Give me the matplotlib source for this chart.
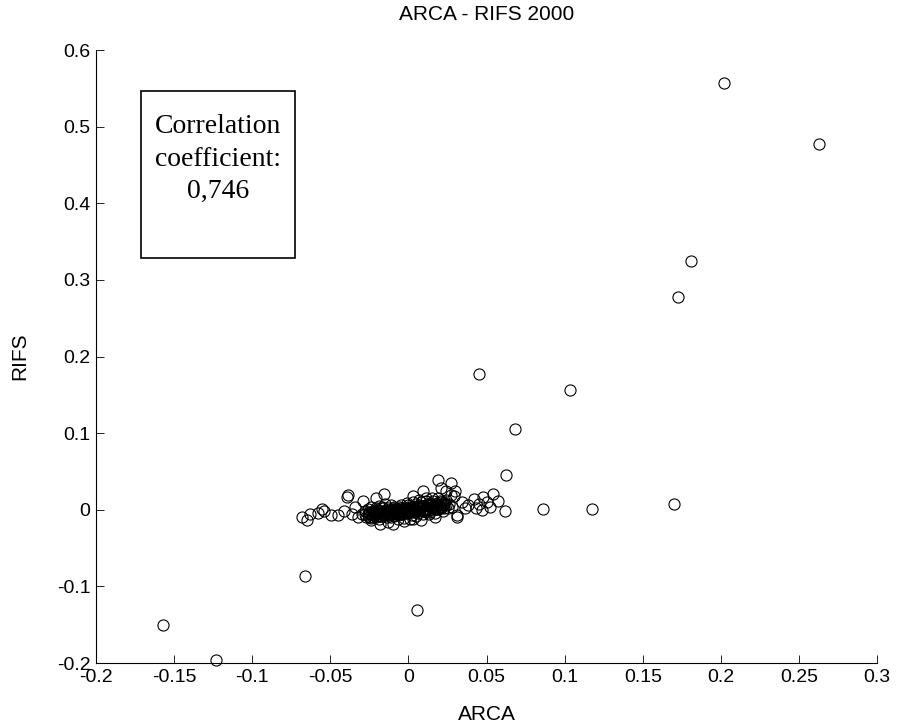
import matplotlib
matplotlib.use("Agg")
import matplotlib.pyplot as plt
from matplotlib.patches import Rectangle

# outlying points
out_x = [0.202, 0.263, 0.1805, 0.1724, 0.0449, 0.1034, 0.0679, 0.0621, 0.062, 0.0862,
         0.1173, 0.170, -0.0664, 0.0057, -0.157, -0.123]
out_y = [0.557, 0.477, 0.325, 0.278, 0.177, 0.156, 0.106, 0.045, -0.002, 0.001,
         0.001, 0.008, -0.086, -0.1305, -0.151, -0.196]

# points around the central cluster
halo_x = [-0.068, -0.065, -0.063, -0.0556, -0.054, -0.0496, -0.045, -0.041, -0.039, -0.0396,
          -0.034, -0.029, -0.058, -0.036, -0.032,
          -0.0155, 0.019, 0.0275, 0.0094, 0.024, 0.021, 0.029, -0.021, 0.003,
          -0.018, -0.0098, 0.0026, 0.031, -0.024, 0.017, 0.008, -0.013,
          0.031, 0.0296, 0.038, 0.042, 0.045, 0.047, 0.048, 0.052, 0.054, 0.057,
          0.043, 0.050, 0.034, 0.036]
halo_y = [-0.009, -0.013, -0.006, 0.001, -0.002, -0.007, -0.007, -0.001, 0.019, 0.0166,
          0.0035, 0.012, -0.004, -0.006, -0.010,
          0.021, 0.039, 0.035, 0.025, 0.024, 0.028, 0.018, 0.015, 0.018,
          -0.018, -0.018, -0.012, -0.009, -0.013, -0.010, -0.013, -0.016,
          -0.007, 0.024, 0.006, 0.014, 0.007, 0.0, 0.017, 0.004, 0.0205, 0.012,
          0.003, 0.010, 0.010, 0.003]

# dense core
core_x = [-0.030, -0.028, -0.027, -0.026, -0.025, -0.024, -0.023, -0.022, -0.021, -0.020,
          -0.019, -0.018, -0.017, -0.016, -0.015, -0.014, -0.013, -0.012, -0.011, -0.010,
          -0.009, -0.008, -0.007, -0.006, -0.005, -0.004, -0.003, -0.002, -0.001, 0.000,
          0.001, 0.002, 0.003, 0.004, 0.005, 0.006, 0.007, 0.008, 0.009, 0.010,
          0.011, 0.012, 0.013, 0.014, 0.015, 0.016, 0.017, 0.018, 0.019, 0.020,
          0.021, 0.022, 0.023, 0.024, 0.025, 0.026, 0.027, 0.028,
          -0.028, -0.024, -0.020, -0.016, -0.012, -0.008, -0.004, 0.000, 0.000, 0.002,
          0.004, 0.006, 0.008, 0.010, 0.012, 0.014, 0.016, -0.006, -0.002, 0.001,
          0.003, -0.010, -0.014, -0.018, -0.022, -0.026, 0.018, 0.020, 0.022, -0.001,
          0.003, 0.007, -0.005, -0.009, 0.009, 0.005, 0.001, -0.003, -0.007, -0.011,
          0.013, 0.017, -0.015, -0.019, 0.011, 0.015]
core_y = [-0.006, -0.002, -0.009, 0.001, -0.004, -0.011, -0.001, -0.007, 0.003, -0.004,
          -0.012, -0.002, 0.004, -0.007, -0.001, -0.010, 0.002, -0.005, 0.006, -0.002,
          -0.008, 0.001, -0.004, 0.004, -0.006, 0.000, -0.011, 0.003, -0.003, 0.006,
          -0.001, -0.007, 0.004, 0.000, 0.008, -0.004, 0.003, 0.010, -0.001, 0.005,
          0.012, 0.001, 0.007, -0.003, 0.004, 0.011, 0.002, 0.008, 0.015, 0.004,
          0.010, -0.002, 0.006, 0.013, 0.002, 0.008, 0.019, 0.004,
          -0.005, 0.004, 0.000, 0.002, -0.001, -0.003, -0.005, 0.001, -0.004, 0.002,
          -0.003, 0.002, 0.005, 0.000, 0.006, 0.009, 0.005, -0.001, -0.002, 0.004,
          0.001, 0.003, -0.004, -0.008, -0.002, -0.007, 0.001, 0.012, 0.007, 0.009,
          0.010, 0.013, 0.006, 0.004, -0.005, -0.008, -0.012, -0.014, -0.012, -0.009,
          -0.006, -0.004, 0.007, 0.005, 0.015, 0.016]

# extra points filling the solid black middle of the cluster
fill_x = [-0.025, -0.023, -0.021, -0.019, -0.017, -0.015, -0.013, -0.011, -0.009, -0.007,
          -0.005, -0.003, -0.001, 0.001, 0.003, 0.005, 0.007, 0.009, 0.011, 0.013,
          0.015, 0.017, 0.019, 0.021, 0.023,
          -0.025, -0.023, -0.021, -0.019, -0.017, -0.015, -0.013, -0.011, -0.009, -0.007,
          -0.005, -0.003, -0.001, 0.001, 0.003, 0.005, 0.007, 0.009, 0.011, 0.013,
          0.015, 0.017, 0.019, 0.021, 0.023,
          -0.024, -0.020, -0.016, -0.012, -0.008, -0.004, 0.000, 0.004, 0.008, 0.012,
          0.016, 0.020, 0.024]
fill_y = [-0.010, -0.009, -0.009, -0.008, -0.008, -0.007, -0.007, -0.006, -0.006, -0.005,
          -0.005, -0.004, -0.004, -0.003, -0.003, -0.002, -0.002, -0.001, -0.001, 0.000,
          0.000, 0.001, 0.001, 0.002, 0.002,
          -0.003, -0.003, -0.002, -0.002, -0.001, -0.001, 0.000, 0.000, 0.001, 0.001,
          0.002, 0.002, 0.003, 0.003, 0.004, 0.004, 0.005, 0.005, 0.006, 0.006,
          0.007, 0.007, 0.008, 0.008, 0.009,
          -0.006, -0.005, -0.004, -0.003, -0.002, -0.001, 0.000, 0.001, 0.002, 0.003,
          0.004, 0.005, 0.006]

xs = core_x + fill_x + halo_x + out_x
ys = core_y + fill_y + halo_y + out_y

xticks = [-0.2, -0.15, -0.1, -0.05, 0, 0.05, 0.1, 0.15, 0.2, 0.25, 0.3]
yticks = [-0.2, -0.1, 0, 0.1, 0.2, 0.3, 0.4, 0.5, 0.6]

plt.rcParams['font.family'] = ['Liberation Sans', 'DejaVu Sans']

fig = plt.figure(figsize=(8.97, 7.27), dpi=100)
ax = fig.add_axes([0.107, 0.088, 0.871, 0.843])
ax.plot(xs, ys, 'o', mfc='none', mec='black', ms=8, mew=0.8, clip_on=False)

ax.set_xlim(-0.2, 0.3)
ax.set_ylim(-0.2, 0.6)
ax.set_xticks(xticks)
ax.set_xticklabels(['%g' % t for t in xticks])
ax.set_yticks(yticks)
ax.set_yticklabels(['%g' % t for t in yticks])
ax.tick_params(direction='in', length=6, width=0.6, labelsize=14, pad=4)
ax.spines['top'].set_visible(False)
ax.spines['right'].set_visible(False)
ax.spines['left'].set_linewidth(0.8)
ax.spines['bottom'].set_linewidth(0.8)

ax.set_title('ARCA - RIFS 2000', fontsize=15, pad=22)
ax.set_xlabel('ARCA', fontsize=15, labelpad=14)
ax.set_ylabel('RIFS', fontsize=15, labelpad=20)

# text box
fig.add_artist(Rectangle((0.157, 0.645), 0.172, 0.230, transform=fig.transFigure,
                         fill=False, edgecolor='black', linewidth=1.2))
for txt, yy in [('Correlation', 0.826), ('coefficient:', 0.781), ('0,746', 0.737)]:
    fig.text(0.243, yy, txt, ha='center', va='center', fontsize=20,
             family=['Liberation Serif', 'DejaVu Serif'])

fig.savefig('out.png', dpi=100)
